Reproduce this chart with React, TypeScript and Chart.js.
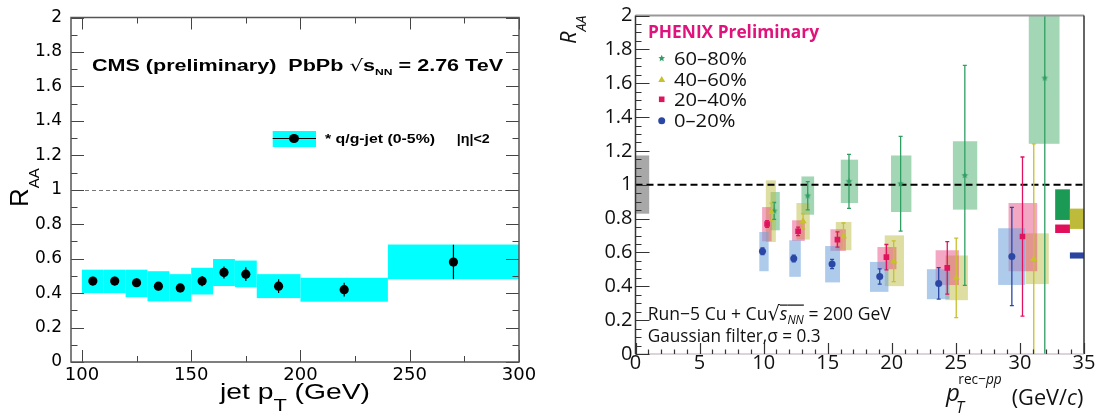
import React, { useEffect, useRef } from 'react';
import { Chart, registerables } from 'chart.js';

Chart.register(...registerables);

/* ===================== CMS (left panel) data ===================== */
const cmsXTickValues = [100, 150, 200, 250, 300];
const cmsBinLow = [100, 110, 120, 130, 140, 150, 160, 170, 180, 200, 240];
const cmsBinHigh = [110, 120, 130, 140, 150, 160, 170, 180, 200, 240, 300];
const cmsPt = [105, 115, 125, 135, 145, 155, 165, 175, 190, 220, 270];
const cmsRaa = [0.47, 0.47, 0.46, 0.44, 0.43, 0.47, 0.52, 0.51, 0.44, 0.42, 0.58];
const cmsStatErr = [0.025, 0.025, 0.025, 0.025, 0.025, 0.03, 0.035, 0.04, 0.04, 0.04, 0.1];
const cmsSysLow = [0.4, 0.4, 0.377, 0.352, 0.352, 0.392, 0.441, 0.434, 0.371, 0.35, 0.481];
const cmsSysHigh = [0.536, 0.536, 0.536, 0.527, 0.51, 0.547, 0.598, 0.589, 0.51, 0.489, 0.682];

/* ===================== PHENIX (right panel) data ===================== */
const phxXTickStep = 5;
const phxLabels = ['60–80%', '40–60%', '20–40%', '0–20%'];

// 60-80%
const c6080X = [10.82, 13.44, 16.66, 20.69, 25.7, 31.94];
const c6080Y = [0.845, 0.935, 1.02, 1.006, 1.055, 1.63];
const c6080Stat = [0.05, 0.083, 0.16, 0.28, 0.65, 1.8];
const c6080BoxXLo = [10.54, 12.95, 16.02, 19.94, 24.77, 30.69];
const c6080BoxXHi = [11.26, 13.94, 17.37, 21.53, 26.67, 33.09];
const c6080BoxYLo = [0.731, 0.823, 0.892, 0.839, 0.853, 1.242];
const c6080BoxYHi = [0.957, 1.049, 1.148, 1.173, 1.257, 2.1];

// 40-60%
const c4060X = [10.61, 13.08, 16.23, 20.15, 25.03, 31.08];
const c4060Y = [0.839, 0.784, 0.696, 0.548, 0.45, 0.562];
const c4060Stat = [0.052, 0.045, 0.078, 0.12, 0.235, 0.68];
const c4060BoxXLo = [10.17, 12.56, 15.63, 19.45, 24.18, 30.44];
const c4060BoxXHi = [10.95, 13.6, 16.85, 20.95, 25.94, 32.25];
const c4060BoxYLo = [0.662, 0.676, 0.613, 0.401, 0.318, 0.413];
const c4060BoxYHi = [1.026, 0.892, 0.78, 0.701, 0.582, 0.713];

// 20-40%
const c2040X = [10.27, 12.69, 15.76, 19.58, 24.33, 30.2];
const c2040Y = [0.768, 0.725, 0.676, 0.572, 0.509, 0.694];
const c2040Stat = [0.02, 0.025, 0.045, 0.075, 0.155, 0.47];
const c2040BoxXLo = [9.88, 12.22, 15.21, 18.88, 23.42, 29.11];
const c2040BoxXHi = [10.62, 13.21, 16.41, 20.36, 25.24, 31.35];
const c2040BoxYLo = [0.666, 0.668, 0.609, 0.501, 0.407, 0.489];
const c2040BoxYHi = [0.868, 0.79, 0.737, 0.632, 0.613, 0.892];

// 0-20%
const c0020X = [9.91, 12.35, 15.34, 19.06, 23.66, 29.37];
const c0020Y = [0.607, 0.564, 0.532, 0.458, 0.417, 0.576];
const c0020Stat = [0.02, 0.02, 0.027, 0.045, 0.093, 0.29];
const c0020BoxXLo = [9.66, 12.0, 14.8, 18.3, 22.74, 28.3];
const c0020BoxXHi = [10.39, 12.9, 15.96, 19.74, 24.5, 30.4];
const c0020BoxYLo = [0.489, 0.456, 0.423, 0.367, 0.324, 0.408];
const c0020BoxYHi = [0.721, 0.672, 0.638, 0.544, 0.501, 0.743];

// normalisation uncertainties
const ppNormX = [0, 1.07];
const ppNormY = [0.829, 1.173];
const normXLo = [32.75, 33.9, 32.75, 33.9];
const normXHi = [33.9, 35, 33.9, 35];
const normYLo = [0.792, 0.739, 0.715, 0.564];
const normYHi = [0.973, 0.859, 0.765, 0.6];

/* ===================== styles ===================== */
const HELV = '"Liberation Sans", Arial, sans-serif';
const DEJA = '"DejaVu Sans", sans-serif';
const OPEN = '"Open Sans", sans-serif';
const phxMarkerColors = ['#2f9e63', '#c8c02c', '#e0145e', '#2b47a6'];
const phxBoxColors = ['rgba(60,170,100,0.48)', 'rgba(190,190,70,0.5)', 'rgba(230,60,120,0.45)', 'rgba(110,160,220,0.55)'];
const phxNormColors = ['#1b9a55', '#bfbb3a', '#e0105a', '#2a44a0'];
const phxMarkers = ['star', 'triangle', 'rect', 'circle'];

const phxSeries = [
  { x: c6080X, y: c6080Y, stat: c6080Stat, bxLo: c6080BoxXLo, bxHi: c6080BoxXHi, byLo: c6080BoxYLo, byHi: c6080BoxYHi },
  { x: c4060X, y: c4060Y, stat: c4060Stat, bxLo: c4060BoxXLo, bxHi: c4060BoxXHi, byLo: c4060BoxYLo, byHi: c4060BoxYHi },
  { x: c2040X, y: c2040Y, stat: c2040Stat, bxLo: c2040BoxXLo, bxHi: c2040BoxXHi, byLo: c2040BoxYLo, byHi: c2040BoxYHi },
  { x: c0020X, y: c0020Y, stat: c0020Stat, bxLo: c0020BoxXLo, bxHi: c0020BoxXHi, byLo: c0020BoxYLo, byHi: c0020BoxYHi },
];

/* ===================== helpers ===================== */
type Run = { t: string; font: string; dy?: number; over?: number };

function drawRuns(
  ctx: CanvasRenderingContext2D,
  runs: Run[],
  x: number,
  y: number,
  color: string,
  opt: { w?: number; sx?: number; align?: 'left' | 'center' | 'right'; rot?: number } = {}
) {
  ctx.save();
  const widths = runs.map((r) => {
    ctx.font = r.font;
    return ctx.measureText(r.t).width;
  });
  const total = widths.reduce((a, b) => a + b, 0);
  const sx = opt.w ? opt.w / total : opt.sx ?? 1;
  const tw = total * sx;
  ctx.translate(x, y);
  if (opt.rot) ctx.rotate(opt.rot);
  const x0 = opt.align === 'center' ? -tw / 2 : opt.align === 'right' ? -tw : 0;
  ctx.translate(x0, 0);
  ctx.scale(sx, 1);
  ctx.fillStyle = color;
  ctx.textBaseline = 'alphabetic';
  ctx.textAlign = 'left';
  let cx = 0;
  runs.forEach((r, i) => {
    ctx.font = r.font;
    ctx.fillText(r.t, cx, r.dy || 0);
    if (r.over !== undefined) ctx.fillRect(cx, r.over, widths[i], 1.2);
    cx += widths[i];
  });
  ctx.restore();
}

function range(a: number, b: number, step: number) {
  const out: number[] = [];
  const n = Math.round((b - a) / step);
  for (let i = 0; i <= n; i++) out.push(+(a + i * step).toFixed(6));
  return out;
}

function clipTo(ctx: CanvasRenderingContext2D, ca: any) {
  ctx.beginPath();
  ctx.rect(ca.left, ca.top, ca.right - ca.left, ca.bottom - ca.top);
  ctx.clip();
}

function boxV(ctx: CanvasRenderingContext2D, xs: any, ys: any, x0: number, x1: number, y0: number, y1: number, fill: string) {
  const a = xs.getPixelForValue(x0);
  const b = xs.getPixelForValue(x1);
  const c = ys.getPixelForValue(y1);
  const d = ys.getPixelForValue(y0);
  ctx.fillStyle = fill;
  ctx.fillRect(a, c, b - a, d - c);
}

function errBar(ctx: CanvasRenderingContext2D, xs: any, ys: any, x: number, lo: number, hi: number, color: string, lw: number, cap: number) {
  const px = xs.getPixelForValue(x);
  const p0 = ys.getPixelForValue(lo);
  const p1 = ys.getPixelForValue(hi);
  ctx.strokeStyle = color;
  ctx.lineWidth = lw;
  ctx.beginPath();
  ctx.moveTo(px, p0);
  ctx.lineTo(px, p1);
  if (cap > 0) {
    ctx.moveTo(px - cap, p0);
    ctx.lineTo(px + cap, p0);
    ctx.moveTo(px - cap, p1);
    ctx.lineTo(px + cap, p1);
  }
  ctx.stroke();
}

function ticksY(ctx: CanvasRenderingContext2D, ys: any, x: number, vals: number[], len: number, dir: number) {
  ctx.beginPath();
  for (const v of vals) {
    const p = Math.round(ys.getPixelForValue(v)) + 0.5;
    ctx.moveTo(x, p);
    ctx.lineTo(x + dir * len, p);
  }
  ctx.stroke();
}

function ticksX(ctx: CanvasRenderingContext2D, xs: any, y: number, vals: number[], len: number, dir: number) {
  ctx.beginPath();
  for (const v of vals) {
    const p = Math.round(xs.getPixelForValue(v)) + 0.5;
    ctx.moveTo(p, y);
    ctx.lineTo(p, y + dir * len);
  }
  ctx.stroke();
}

function makeStar(r: number, color: string) {
  const c = document.createElement('canvas');
  const s = Math.ceil(r * 2 + 2);
  c.width = s;
  c.height = s;
  const g = c.getContext('2d')!;
  g.fillStyle = color;
  g.beginPath();
  for (let i = 0; i < 10; i++) {
    const a = -Math.PI / 2 + (i * Math.PI) / 5;
    const rr = i % 2 === 0 ? r : r * 0.45;
    g.lineTo(s / 2 + rr * Math.cos(a), s / 2 + rr * Math.sin(a));
  }
  g.closePath();
  g.fill();
  return c;
}

function drawMarker(ctx: CanvasRenderingContext2D, kind: string, x: number, y: number, color: string) {
  ctx.save();
  ctx.fillStyle = color;
  ctx.beginPath();
  if (kind === 'circle') {
    ctx.arc(x, y, 3.5, 0, Math.PI * 2);
  } else if (kind === 'rect') {
    ctx.rect(x - 2.8, y - 2.8, 5.6, 5.6);
  } else if (kind === 'triangle') {
    ctx.moveTo(x, y - 4);
    ctx.lineTo(x + 3.5, y + 2);
    ctx.lineTo(x - 3.5, y + 2);
    ctx.closePath();
  } else {
    for (let i = 0; i < 10; i++) {
      const a = -Math.PI / 2 + (i * Math.PI) / 5;
      const rr = i % 2 === 0 ? 3.5 : 1.6;
      ctx.lineTo(x + rr * Math.cos(a), y + rr * Math.sin(a));
    }
    ctx.closePath();
  }
  ctx.fill();
  ctx.restore();
}

/* ===================== CMS chart ===================== */
const cmsPlugin = {
  id: 'cmsDecor',
  beforeDatasetsDraw(chart: any) {
    const { ctx, chartArea: ca } = chart;
    const xs = chart.scales.x;
    const ys = chart.scales.y;
    ctx.save();
    clipTo(ctx, ca);
    for (let i = 0; i < cmsPt.length; i++) {
      boxV(ctx, xs, ys, cmsBinLow[i], cmsBinHigh[i], cmsSysLow[i], cmsSysHigh[i], '#00ffff');
    }
    const y1 = Math.round(ys.getPixelForValue(1)) + 0.5;
    ctx.setLineDash([4, 3]);
    ctx.strokeStyle = '#777';
    ctx.lineWidth = 1;
    ctx.beginPath();
    ctx.moveTo(ca.left, y1);
    ctx.lineTo(ca.right, y1);
    ctx.stroke();
    ctx.setLineDash([]);
    for (let i = 0; i < cmsPt.length; i++) {
      errBar(ctx, xs, ys, cmsPt[i], cmsRaa[i] - cmsStatErr[i], cmsRaa[i] + cmsStatErr[i], '#000', 1.2, 0);
    }
    ctx.restore();
  },
  afterDraw(chart: any) {
    const { ctx, chartArea: ca } = chart;
    const xs = chart.scales.x;
    const ys = chart.scales.y;
    ctx.save();
    // ticks
    ctx.strokeStyle = '#444';
    ctx.lineWidth = 1;
    const yMaj = range(0, 2, 0.2);
    const yMin = range(0.1, 1.9, 0.2);
    ticksY(ctx, ys, ca.left, yMaj, 13, 1);
    ticksY(ctx, ys, ca.left, yMin, 6.5, 1);
    ticksY(ctx, ys, ca.right, yMaj, 13, -1);
    ticksY(ctx, ys, ca.right, yMin, 6.5, -1);
    const xMaj = range(100, 300, 50);
    const xMin = range(125, 275, 50);
    ticksX(ctx, xs, ca.bottom, xMaj, 12, -1);
    ticksX(ctx, xs, ca.bottom, xMin, 6, -1);
    ticksX(ctx, xs, ca.top, xMaj, 12, 1);
    ticksX(ctx, xs, ca.top, xMin, 6, 1);
    // frame
    ctx.strokeStyle = '#555';
    ctx.lineWidth = 1.5;
    ctx.strokeRect(ca.left, ca.top, ca.right - ca.left, ca.bottom - ca.top);
    ctx.restore();

    // title
    drawRuns(
      ctx,
      [
        { t: 'CMS (preliminary)  PbPb ', font: `bold 16px ${HELV}` },
        { t: '√', font: `16px ${DEJA}` },
        { t: 's', font: `bold 16px ${HELV}` },
        { t: 'NN', font: `bold 9px ${HELV}`, dy: 3.5 },
        { t: ' = 2.76 TeV', font: `bold 16px ${HELV}` },
      ],
      92,
      71,
      '#000',
      { w: 411 }
    );

    // legend
    ctx.save();
    ctx.fillStyle = '#00ffff';
    ctx.fillRect(272.7, 131, 43.3, 16);
    ctx.strokeStyle = '#000';
    ctx.lineWidth = 1;
    ctx.beginPath();
    ctx.moveTo(272.7, 138.5);
    ctx.lineTo(316, 138.5);
    ctx.stroke();
    ctx.fillStyle = '#000';
    ctx.beginPath();
    ctx.ellipse(294, 138.5, 5, 4.5, 0, 0, Math.PI * 2);
    ctx.fill();
    ctx.restore();
    drawRuns(ctx, [{ t: '* q/g-jet (0-5%)', font: `bold 12px ${HELV}` }], 325, 143, '#000', { w: 110 });
    drawRuns(ctx, [{ t: '|η|<2', font: `bold 12px ${HELV}` }], 456.7, 143, '#000', { w: 33 });

    // axis titles
    drawRuns(
      ctx,
      [
        { t: 'jet p', font: `22px ${HELV}` },
        { t: 'T', font: `17px ${HELV}`, dy: 12 },
        { t: ' (GeV)', font: `22px ${HELV}` },
      ],
      220,
      399,
      '#000',
      { w: 150 }
    );
    drawRuns(
      ctx,
      [
        { t: 'R', font: `26px ${HELV}` },
        { t: 'AA', font: `15px ${HELV}`, dy: 10.6 },
      ],
      28.4,
      207,
      '#000',
      { rot: -Math.PI / 2 }
    );
  },
};

function cmsConfig(): any {
  return {
    type: 'scatter',
    data: {
      datasets: [
        {
          label: '* q/g-jet (0-5%)',
          data: cmsPt.map((x, i) => ({ x, y: cmsRaa[i] })),
          pointRadius: 4.6,
          pointStyle: 'circle',
          backgroundColor: '#000',
          borderColor: '#000',
          borderWidth: 0,
        },
      ],
    },
    options: {
      animation: false,
      responsive: false,
      devicePixelRatio: 1,
      events: [],
      layout: { padding: { top: 10, right: 31, left: 0, bottom: 0 } },
      plugins: { legend: { display: false }, tooltip: { enabled: false } },
      scales: {
        x: {
          type: 'linear',
          min: 95,
          max: 300,
          afterFit: (s: any) => {
            s.height = 52;
          },
          afterBuildTicks: (s: any) => {
            s.ticks = cmsXTickValues.map((v) => ({ value: v }));
          },
          grid: { display: false, drawTicks: false },
          border: { display: false },
          ticks: {
            font: { family: DEJA, size: 18, lineHeight: 1 },
            color: '#000',
            padding: 4,
            maxRotation: 0,
            autoSkip: false,
            callback: (v: any) => String(v),
          },
        },
        y: {
          type: 'linear',
          min: 0,
          max: 2,
          afterFit: (s: any) => {
            s.width = 71;
          },
          grid: { display: false, drawTicks: false },
          border: { display: false },
          ticks: {
            stepSize: 0.2,
            font: { family: DEJA, size: 17, lineHeight: 1 },
            color: '#000',
            padding: 9,
            callback: (v: any) => String(Math.round(v * 10) / 10),
          },
        },
      },
    },
    plugins: [cmsPlugin],
  };
}

/* ===================== PHENIX chart ===================== */
const phxPlugin = {
  id: 'phxDecor',
  beforeDatasetsDraw(chart: any) {
    const { ctx, chartArea: ca } = chart;
    const xs = chart.scales.x;
    const ys = chart.scales.y;
    ctx.save();
    clipTo(ctx, ca);
    boxV(ctx, xs, ys, ppNormX[0], ppNormX[1], ppNormY[0], ppNormY[1], '#a8a8a8');
    phxSeries.forEach((s, k) => {
      for (let i = 0; i < s.x.length; i++) {
        boxV(ctx, xs, ys, s.bxLo[i], s.bxHi[i], s.byLo[i], s.byHi[i], phxBoxColors[k]);
      }
    });
    for (let k = 0; k < 4; k++) {
      boxV(ctx, xs, ys, normXLo[k], normXHi[k], normYLo[k], normYHi[k], phxNormColors[k]);
    }
    // unity line
    const y1 = ys.getPixelForValue(1);
    ctx.setLineDash([7, 4]);
    ctx.strokeStyle = '#000';
    ctx.lineWidth = 2;
    ctx.beginPath();
    ctx.moveTo(ca.left, y1);
    ctx.lineTo(ca.right, y1);
    ctx.stroke();
    ctx.setLineDash([]);
    phxSeries.forEach((s, k) => {
      for (let i = 0; i < s.x.length; i++) {
        errBar(ctx, xs, ys, s.x[i], s.y[i] - s.stat[i], s.y[i] + s.stat[i], phxMarkerColors[k], 1.3, 2);
      }
    });
    ctx.restore();
  },
  afterDraw(chart: any) {
    const { ctx, chartArea: ca } = chart;
    const xs = chart.scales.x;
    const ys = chart.scales.y;
    ctx.save();
    // frame
    ctx.strokeStyle = '#999';
    ctx.lineWidth = 2;
    ctx.beginPath();
    ctx.moveTo(ca.left, ca.top);
    ctx.lineTo(ca.right, ca.top);
    ctx.stroke();
    ctx.strokeStyle = '#333';
    ctx.lineWidth = 1.5;
    ctx.beginPath();
    ctx.moveTo(ca.right, ca.top);
    ctx.lineTo(ca.right, ca.bottom);
    ctx.stroke();
    ctx.strokeStyle = '#b8aab8';
    ctx.lineWidth = 1.2;
    ctx.beginPath();
    ctx.moveTo(ca.left, ca.bottom);
    ctx.lineTo(ca.right, ca.bottom);
    ctx.stroke();
    ctx.strokeStyle = '#333';
    ctx.lineWidth = 1.5;
    ctx.beginPath();
    ctx.moveTo(ca.left, ca.top);
    ctx.lineTo(ca.left, ca.bottom);
    ctx.stroke();
    // ticks
    ctx.lineWidth = 1.2;
    ctx.strokeStyle = '#333';
    ticksY(ctx, ys, ca.left, range(0, 2, 0.2), 14, 1);
    ticksY(ctx, ys, ca.left, range(0, 2, 0.05).filter((v) => Math.abs(v / 0.2 - Math.round(v / 0.2)) > 1e-6), 6, 1);
    ticksX(ctx, xs, ca.bottom, range(0, 35, phxXTickStep), 11, -1);
    ticksX(ctx, xs, ca.bottom, range(0, 35, 1).filter((v) => v % phxXTickStep !== 0), 4.5, -1);
    ctx.restore();

    // PHENIX label
    drawRuns(ctx, [{ t: 'PHENIX Preliminary', font: `bold 17px ${OPEN}` }], 98, 37.7, '#e0137c', { w: 171 });

    // legend
    const ly = [58.3, 80, 99.3, 120.7];
    for (let k = 0; k < 4; k++) {
      drawMarker(ctx, phxMarkers[k], 111.7, ly[k], phxMarkerColors[k]);
      drawRuns(ctx, [{ t: phxLabels[k], font: `18px ${OPEN}` }], 124, ly[k] + 6.4, '#111', { sx: 1.12 });
    }

    // annotations
    drawRuns(
      ctx,
      [
        { t: 'Run−5 Cu + Cu', font: `18px ${OPEN}` },
        { t: '√', font: `20px ${DEJA}` },
        { t: 's', font: `italic 18px ${OPEN}`, over: -15 },
        { t: 'NN', font: `italic 12px ${OPEN}`, dy: 4, over: -15 },
        { t: ' = 200 GeV', font: `18px ${OPEN}` },
      ],
      97.7,
      319.5,
      '#111',
      { w: 243 }
    );
    drawRuns(ctx, [{ t: 'Gaussian filter,σ = 0.3', font: `18px ${OPEN}` }], 97.7, 341.5, '#111', { w: 173 });

    // axis titles
    drawRuns(
      ctx,
      [
        { t: 'R', font: `italic 22px ${OPEN}` },
        { t: 'AA', font: `italic 14px ${OPEN}`, dy: 10 },
      ],
      26,
      44,
      '#111',
      { rot: -Math.PI / 2 }
    );
    drawRuns(ctx, [{ t: 'p', font: `italic 24px ${OPEN}` }], 396, 401, '#111');
    drawRuns(
      ctx,
      [
        { t: 'rec−', font: `15px ${OPEN}` },
        { t: 'pp', font: `italic 15px ${OPEN}` },
      ],
      408.3,
      384,
      '#111',
      { w: 43.4 }
    );
    drawRuns(ctx, [{ t: 'T', font: `italic 16px ${OPEN}` }], 406, 413, '#111');
    drawRuns(
      ctx,
      [
        { t: '(GeV/', font: `22px ${OPEN}` },
        { t: 'c', font: `italic 22px ${OPEN}` },
        { t: ')', font: `22px ${OPEN}` },
      ],
      461.7,
      404.5,
      '#111',
      { w: 71.6 }
    );
  },
};

function phxConfig(): any {
  const star = makeStar(3.5, phxMarkerColors[0]);
  const styles: any[] = [star, 'triangle', 'rect', 'circle'];
  const radii = [3.5, 4, 4, 3.5];
  return {
    type: 'scatter',
    data: {
      datasets: phxSeries.map((s, k) => ({
        label: phxLabels[k],
        data: s.x.map((x, i) => ({ x, y: s.y[i] })),
        pointStyle: styles[k],
        pointRadius: radii[k],
        backgroundColor: phxMarkerColors[k],
        borderColor: phxMarkerColors[k],
        borderWidth: 0,
      })).reverse(),
    },
    options: {
      animation: false,
      responsive: false,
      devicePixelRatio: 1,
      events: [],
      layout: { padding: { top: 15.5, right: 16, left: 0, bottom: 0 } },
      plugins: { legend: { display: false }, tooltip: { enabled: false } },
      scales: {
        x: {
          type: 'linear',
          min: 0,
          max: 35,
          afterFit: (s: any) => {
            s.height = 60;
          },
          grid: { display: false, drawTicks: false },
          border: { display: false },
          ticks: {
            stepSize: phxXTickStep,
            font: { family: OPEN, size: 20, lineHeight: 1 },
            color: '#111',
            padding: -1,
            maxRotation: 0,
            autoSkip: false,
          },
        },
        y: {
          type: 'linear',
          min: 0,
          max: 2,
          afterFit: (s: any) => {
            s.width = 85.5;
          },
          grid: { display: false, drawTicks: false },
          border: { display: false },
          ticks: {
            stepSize: 0.2,
            font: { family: OPEN, size: 20, lineHeight: 1 },
            color: '#111',
            padding: 3,
            callback: (v: any) => String(Math.round(v * 10) / 10),
          },
        },
      },
    },
    plugins: [phxPlugin],
  };
}

export default function App() {
  const leftRef = useRef<HTMLCanvasElement>(null);
  const rightRef = useRef<HTMLCanvasElement>(null);
  useEffect(() => {
    const c1 = new Chart(leftRef.current!, cmsConfig());
    const c2 = new Chart(rightRef.current!, phxConfig());
    return () => {
      c1.destroy();
      c2.destroy();
    };
  }, []);
  return (
    <div style={{ position: 'fixed', left: 0, top: 0, width: 1100, height: 414, background: '#fff' }}>
      <canvas ref={leftRef} width={550} height={414} style={{ position: 'absolute', left: 0, top: 0, width: 550, height: 414 }} />
      <canvas ref={rightRef} width={550} height={414} style={{ position: 'absolute', left: 550, top: 0, width: 550, height: 414 }} />
    </div>
  );
}
